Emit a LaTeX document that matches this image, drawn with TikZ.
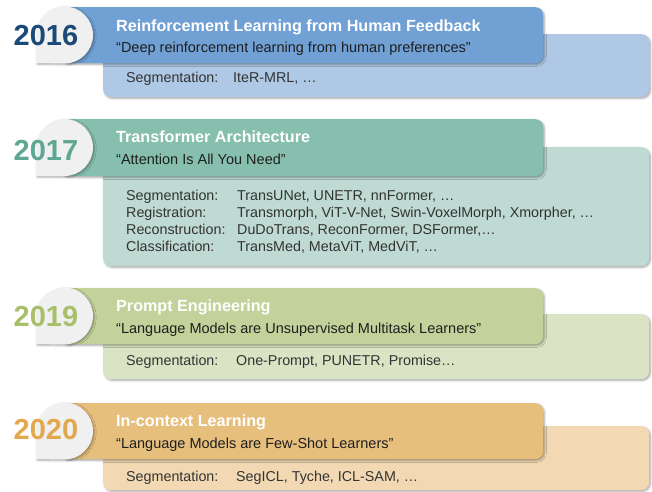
\documentclass[tikz,border=0pt]{standalone}
\usepackage{fontspec}
\setmainfont{Liberation Sans}
\usetikzlibrary{shadows.blur}
\definecolor{hA}{HTML}{70A0D4}
\definecolor{dA}{HTML}{AEC8E5}
\definecolor{yA}{HTML}{1B4A78}
\definecolor{hB}{HTML}{87BFAE}
\definecolor{dB}{HTML}{BFDAD3}
\definecolor{yB}{HTML}{5EA792}
\definecolor{hC}{HTML}{C3D29B}
\definecolor{dC}{HTML}{DAE4C4}
\definecolor{yC}{HTML}{A8C06A}
\definecolor{hD}{HTML}{E7BF7D}
\definecolor{dD}{HTML}{F2D9B3}
\definecolor{yD}{HTML}{E2A84E}
\definecolor{circ}{HTML}{F0F0F0}
\definecolor{txt}{HTML}{333333}
\tikzset{
  shad/.style={blur shadow={shadow xshift=1.2pt, shadow yshift=-1.2pt, shadow blur radius=2pt, shadow opacity=35}},
  box/.style={rounded corners=8pt, anchor=north west, inner sep=0pt, shad},
  ttl/.style={anchor=base west, inner sep=0pt, text=white, font=\fontsize{16.15}{19}\selectfont\bfseries},
  quo/.style={anchor=base west, inner sep=0pt, text=black!88, font=\fontsize{14.5}{17}\selectfont},
  lbl/.style={anchor=base west, inner sep=0pt, text=txt, font=\fontsize{14.3}{17}\selectfont},
  yr/.style={inner sep=0pt, font=\fontsize{29}{32}\selectfont\bfseries},
  tab/.style={fill=circ, shad},
}
\begin{document}
\begin{tikzpicture}[x=1pt,y=-1pt]
\useasboundingbox (0,0) rectangle (652,491);
% ---------- 2016 ----------
\node[box, fill=dA, minimum width=546pt, minimum height=63pt] (d1) at (103,34) {};
\node[box, fill=hA, minimum width=483pt, minimum height=56pt] (h1) at (60,7) {};
\fill[tab] (36,63) -- (36,35) arc[start angle=180, end angle=450, radius=28.5] -- cycle;
\node[yr, text=yA] (y1) at (46,35.5) {2016};
\node[ttl] (t1) at (116,31) {Reinforcement Learning from Human Feedback};
\node[quo] (q1) at (116,52.5) {“Deep reinforcement learning from human preferences”};
\node[lbl] (l1) at (126,82) {Segmentation:};
\node[lbl] (v1) at (233,82) {IteR-MRL, …};
% ---------- 2017 ----------
\node[box, fill=dB, minimum width=546pt, minimum height=119pt] (d2) at (103,147) {};
\node[box, fill=hB, minimum width=483pt, minimum height=57pt] (h2) at (60,119) {};
\fill[tab] (36,176) -- (36,147.5) arc[start angle=180, end angle=450, radius=28.5] -- cycle;
\node[yr, text=yB] (y2) at (46,151) {2017};
\node[ttl] (t2) at (116,142.5) {Transformer Architecture};
\node[quo] (q2) at (116,164.5) {“Attention Is All You Need”};
\node[lbl] (l2a) at (126,200) {Segmentation:};
\node[lbl] (v2a) at (237,200) {TransUNet, UNETR, nnFormer, …};
\node[lbl] (l2b) at (126,217) {Registration:};
\node[lbl] (v2b) at (237,217) {Transmorph, ViT-V-Net, Swin-VoxelMorph, Xmorpher, …};
\node[lbl] (l2c) at (126,234) {Reconstruction:};
\node[lbl] (v2c) at (237,234) {DuDoTrans, ReconFormer, DSFormer,…};
\node[lbl] (l2d) at (126,251) {Classification:};
\node[lbl] (v2d) at (237,251) {TransMed, MetaViT, MedViT, …};
% ---------- 2019 ----------
\node[box, fill=dC, minimum width=546pt, minimum height=65pt] (d3) at (103,314) {};
\node[box, fill=hC, minimum width=483pt, minimum height=56pt] (h3) at (60,288) {};
\fill[tab] (36,344) -- (36,316) arc[start angle=180, end angle=450, radius=28.5] -- cycle;
\node[yr, text=yC] (y3) at (46,317) {2019};
\node[ttl] (t3) at (116,311.5) {Prompt Engineering};
\node[quo] (q3) at (116,333.5) {“Language Models are Unsupervised Multitask Learners”};
\node[lbl] (l3) at (126,365) {Segmentation:};
\node[lbl] (v3) at (236,365) {One-Prompt, PUNETR, Promise…};
% ---------- 2020 ----------
\node[box, fill=dD, minimum width=546pt, minimum height=64pt] (d4) at (103,426) {};
\node[box, fill=hD, minimum width=483pt, minimum height=56pt] (h4) at (60,403) {};
\fill[tab] (36,459) -- (36,431) arc[start angle=180, end angle=450, radius=28.5] -- cycle;
\node[yr, text=yD] (y4) at (46,430) {2020};
\node[ttl] (t4) at (116,426.5) {In-context Learning};
\node[quo] (q4) at (116,448.5) {“Language Models are Few-Shot Learners”};
\node[lbl] (l4) at (126,481) {Segmentation:};
\node[lbl] (v4) at (236,481) {SegICL, Tyche, ICL-SAM, …};
\end{tikzpicture}
\end{document}
